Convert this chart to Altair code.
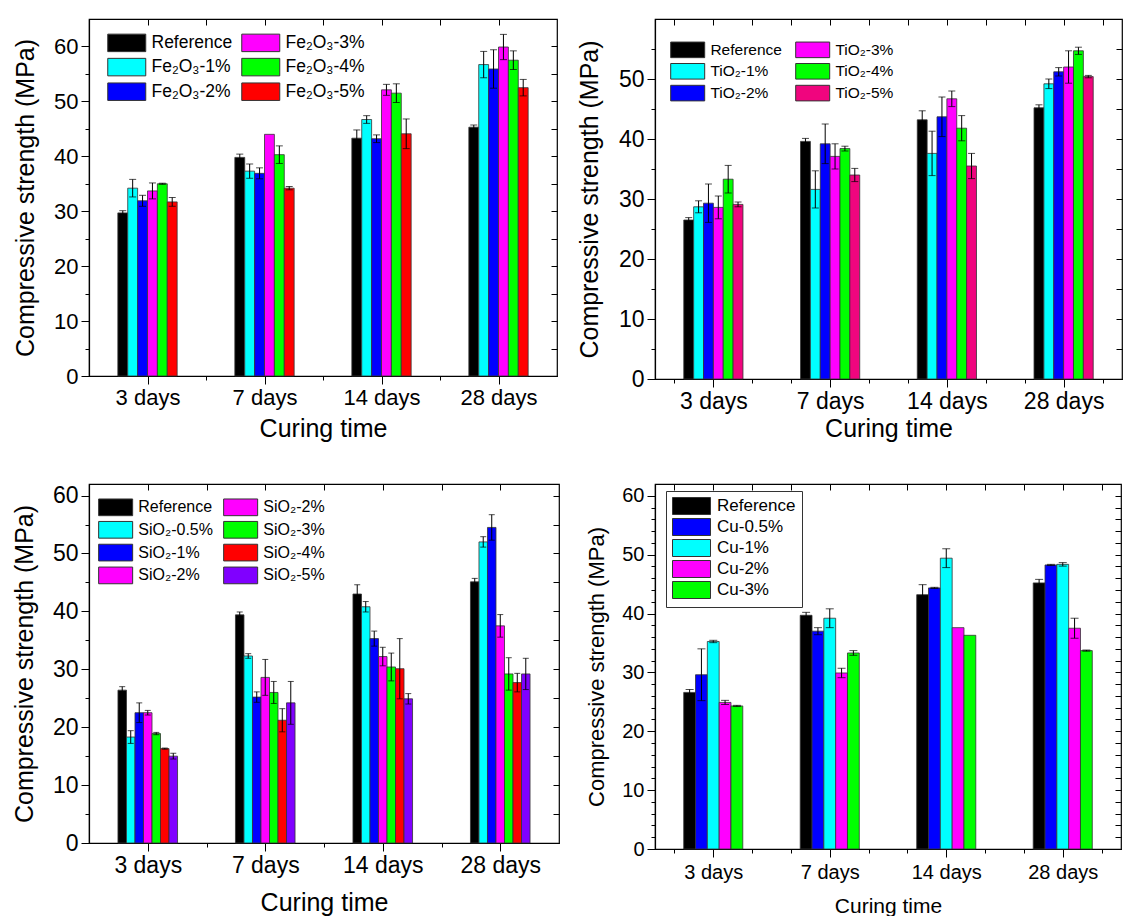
import json

import altair as alt
import pandas as pd

FONT = "Liberation Sans"
DAYS = ["3 days", "7 days", "14 days", "28 days"]
GROUP_WIDTH = 0.507  # share of one curing-time slot taken by a bar group

# ---------------- Fe2O3 ----------------
FE_SERIES = ["Reference", "Fe₂O₃-1%", "Fe₂O₃-2%", "Fe₂O₃-3%", "Fe₂O₃-4%", "Fe₂O₃-5%"]
FE_COLORS = ["#000000", "#00FFFF", "#0000FF", "#FF00FF", "#00FF00", "#FF0000"]
FE_VALUES = [
    [29.7, 39.8, 43.3, 45.3],
    [34.2, 37.3, 46.7, 56.7],
    [31.9, 36.9, 43.2, 55.9],
    [33.7, 44.0, 52.1, 59.9],
    [35.0, 40.3, 51.5, 57.5],
    [31.7, 34.2, 44.1, 52.5],
]
FE_ERRORS = [
    [0.4, 0.6, 1.5, 0.4],
    [1.6, 1.3, 0.7, 2.4],
    [1.0, 1.0, 0.7, 3.5],
    [1.45, 0.0, 1.0, 2.3],
    [0.1, 1.6, 1.7, 1.7],
    [0.8, 0.3, 2.7, 1.5],
]

# ---------------- TiO2 ----------------
TI_SERIES = ["Reference", "TiO₂-1%", "TiO₂-2%", "TiO₂-3%", "TiO₂-4%", "TiO₂-5%"]
TI_COLORS = ["#000000", "#00FFFF", "#0000FF", "#FF00FF", "#00FF00", "#F0057E"]
TI_VALUES = [
    [26.5, 39.6, 43.2, 45.2],
    [28.7, 31.6, 37.6, 49.2],
    [29.3, 39.2, 43.7, 51.2],
    [28.6, 37.1, 46.7, 52.0],
    [33.3, 38.4, 41.8, 54.7],
    [29.1, 34.0, 35.5, 50.4],
]
TI_ERRORS = [
    [0.4, 0.5, 1.5, 0.5],
    [1.0, 3.1, 3.7, 0.8],
    [3.2, 3.3, 3.3, 0.7],
    [1.9, 2.1, 1.3, 2.7],
    [2.3, 0.4, 2.1, 0.6],
    [0.4, 1.1, 2.1, 0.2],
]

# ---------------- SiO2 ----------------
SI_SERIES = ["Reference", "SiO₂-0.5%", "SiO₂-1%", "SiO₂-2%", "SiO₂-3%", "SiO₂-4%", "SiO₂-5%"]
SI_COLORS = ["#000000", "#00FFFF", "#0000FF", "#FF00FF", "#00FF00", "#FF0000", "#8000FF"]
SI_VALUES = [
    [26.4, 39.4, 43.0, 45.1],
    [18.3, 32.3, 40.8, 52.0],
    [22.5, 25.2, 35.3, 54.5],
    [22.5, 28.6, 32.2, 37.5],
    [18.9, 26.0, 30.4, 29.2],
    [16.3, 21.2, 30.1, 27.7],
    [15.0, 24.2, 24.9, 29.2],
]
SI_ERRORS = [
    [0.6, 0.5, 1.6, 0.6],
    [1.1, 0.4, 0.9, 0.9],
    [1.7, 0.9, 1.3, 2.2],
    [0.4, 3.1, 1.6, 1.95],
    [0.2, 1.9, 2.4, 2.8],
    [0.1, 2.0, 5.2, 1.6],
    [0.5, 3.7, 0.9, 2.7],
]
# the key repeats the 2 % entry at the head of its second column
SI_LEGEND = ["Reference", "SiO₂-0.5%", "SiO₂-1%", "SiO₂-2%", "SiO₂-2% ", "SiO₂-3%", "SiO₂-4%", "SiO₂-5%"]
SI_LEGEND_COLORS = ["#000000", "#00FFFF", "#0000FF", "#FF00FF", "#FF00FF", "#00FF00", "#FF0000", "#8000FF"]

# ---------------- Cu ----------------
CU_SERIES = ["Reference", "Cu-0.5%", "Cu-1%", "Cu-2%", "Cu-3%"]
CU_COLORS = ["#000000", "#0000FF", "#00FFFF", "#FF00FF", "#00FF00"]
CU_VALUES = [
    [26.6, 39.7, 43.2, 45.2],
    [29.6, 37.0, 44.35, 48.25],
    [35.25, 39.2, 49.4, 48.35],
    [24.9, 29.9, 37.6, 37.5],
    [24.3, 33.3, 36.3, 33.7],
]
CU_ERRORS = [
    [0.5, 0.5, 1.7, 0.6],
    [4.4, 0.6, 0.1, 0.1],
    [0.2, 1.6, 1.6, 0.3],
    [0.35, 0.8, 0.0, 1.7],
    [0.1, 0.4, 0.0, 0.1],
]


def key_path(w, h):
    # rectangle whose height spans the unit box and whose width runs to the right
    r = round(2 * w / h - 1, 4)
    return f"M-1,-1L{r},-1L{r},1L-1,1Z"


def panel(series, values, errors, legend_domain, legend_range, st):
    n = len(series)
    bw = GROUP_WIDTH / n
    rows = []
    for s_idx, name in enumerate(series):
        for d_idx in range(len(DAYS)):
            rows.append({"series": name, "s": s_idx, "d": d_idx + 1,
                         "v": values[s_idx][d_idx], "e": errors[s_idx][d_idx]})
    df = pd.DataFrame(rows)

    base = alt.Chart(df).transform_calculate(
        x0=f"datum.d + (datum.s - {n / 2}) * {bw}",
        x1=f"datum.d + (datum.s - {n / 2} + 1) * {bw}",
        xc=f"datum.d + (datum.s - {(n - 1) / 2}) * {bw}",
        lo="datum.v - datum.e",
        hi="datum.v + datum.e",
    )

    xscale = alt.Scale(domain=[0.5, 4.5], nice=False, zero=False)
    yscale = alt.Scale(domain=[0, st["ymax"]], nice=False)

    if st["thirds"]:
        xticks = [round(1 + i / 3, 4) for i in range(-1, 11)]
    else:
        xticks = [1, 1.5, 2, 2.5, 3, 3.5, 4]
    yticks = [v for v in range(0, st["ymax"] + 1, st["yminor"]) if v < st["ymax"]]

    is_major_x = "abs(datum.value - round(datum.value)) < 0.01"
    label_x = f"{is_major_x} ? {json.dumps(DAYS)}[round(datum.value) - 1] : ''"

    common = dict(labelFont=FONT, titleFont=FONT, labelColor="black", titleColor="black",
                  tickColor="black", domainColor="black", grid=False, titleFontWeight="normal",
                  tickWidth=1, domainWidth=1.2, labelOverlap=False)

    x_axis = alt.Axis(values=xticks, title="Curing time", labelExpr=label_x,
                      tickSize={"condition": {"test": is_major_x, "value": 8}, "value": 4},
                      labelFontSize=st["tick_fs"], titleFontSize=st["title_fs"],
                      labelPadding=st["xlabel_pad"], titlePadding=st["xtitle_pad"],
                      labelFlush=False, **common)
    y_axis = alt.Axis(values=yticks, title="Compressive strength (MPa)",
                      labelExpr="datum.value % 10 === 0 ? datum.label : ''",
                      tickSize={"condition": {"test": "datum.value % 10 === 0", "value": 8}, "value": 4},
                      labelFontSize=st["tick_fs"], titleFontSize=st["ytitle_fs"],
                      labelPadding=st["ylabel_pad"], titlePadding=st["ytitle_pad"], **common)

    boxed = st["leg_stroke"] != "transparent"
    legend = alt.Legend(
        orient="none", legendX=st["lx"], legendY=st["ly"], title=None,
        columns=st["cols"], symbolType=key_path(st["sym_w"], st["sym_h"]),
        symbolSize=st["sym_h"] ** 2,
        symbolStrokeColor="#333333", symbolStrokeWidth=1, symbolOpacity=1,
        labelFont=FONT, labelFontSize=st["leg_fs"], labelColor="black",
        labelOffset=st["sym_w"] - st["sym_h"] + st["leg_off"],
        rowPadding=st["row_pad"], columnPadding=st["col_pad"],
        padding=st["leg_pad"], strokeColor=st["leg_stroke"],
        fillColor="white" if boxed else "transparent", labelLimit=300,
    )

    bars = base.mark_bar(stroke="#333333", strokeWidth=0.8).encode(
        x=alt.X("x0:Q", scale=xscale, axis=x_axis),
        x2="x1:Q",
        y=alt.Y("v:Q", scale=yscale, axis=y_axis),
        y2=alt.datum(0),
        color=alt.Color("series:N", scale=alt.Scale(domain=legend_domain, range=legend_range),
                        legend=legend),
    )

    errs = base.transform_filter("datum.e > 0")
    whiskers = errs.mark_rule(color="black", strokeWidth=1).encode(
        x=alt.X("xc:Q", scale=xscale,
                axis=alt.Axis(orient="top", values=xticks, labels=False, domain=False, tickSize=6,
                              offset=-6, title=None, grid=False, tickColor="black", tickWidth=1)),
        y=alt.Y("lo:Q", scale=yscale,
                axis=alt.Axis(orient="right", values=yticks, labels=False, domain=False, tickSize=6,
                              offset=-6, title=None, grid=False, tickColor="black", tickWidth=1)),
        y2="hi:Q",
    )
    caps = errs.transform_fold(["lo", "hi"], as_=["end", "cap"]).mark_tick(
        orient="horizontal", color="black", size=st["cap"], thickness=1
    ).encode(
        x=alt.X("xc:Q", scale=xscale, axis=None),
        y=alt.Y("cap:Q", scale=yscale, axis=None),
    )

    return alt.layer(bars, whiskers, caps).resolve_axis(x="independent", y="independent").properties(
        width=st["w"], height=st["h"]
    )


BIG = dict(tick_fs=22, title_fs=25, ytitle_fs=25, xlabel_pad=3, xtitle_pad=8, ylabel_pad=3,
           ytitle_pad=15, thirds=False, yminor=5, cols=2, leg_stroke="transparent", leg_pad=0)

p1 = panel(FE_SERIES, FE_VALUES, FE_ERRORS, FE_SERIES, FE_COLORS,
           dict(BIG, w=468, h=357, ymax=65, lx=18, ly=14, sym_w=38, sym_h=17.5, leg_fs=17.5,
                leg_off=5, row_pad=1.6, col_pad=6, cap=7))
p2 = panel(TI_SERIES, TI_VALUES, TI_ERRORS, TI_SERIES, TI_COLORS,
           dict(BIG, w=467, h=360, ymax=60, thirds=True, tick_fs=23, xtitle_pad=3, ytitle_pad=16,
                lx=15, ly=22, sym_w=34, sym_h=15.6, leg_fs=15.5, leg_off=5, row_pad=0.8,
                col_pad=11, cap=7))
p3 = panel(SI_SERIES, SI_VALUES, SI_ERRORS, SI_LEGEND, SI_LEGEND_COLORS,
           dict(BIG, w=470, h=359, ymax=62, tick_fs=23, xtitle_pad=13, lx=9, ly=14, sym_w=34,
                sym_h=16.7, leg_fs=16, leg_off=5, row_pad=0.8, col_pad=8, cap=6))
p4 = panel(CU_SERIES, CU_VALUES, CU_ERRORS, CU_SERIES, CU_COLORS,
           dict(BIG, w=466, h=365, ymax=62, thirds=True, yminor=2, tick_fs=20, title_fs=21,
                ytitle_fs=22, ytitle_pad=13, xlabel_pad=5, xtitle_pad=13, cols=1, lx=11, ly=7,
                sym_w=38, sym_h=17, leg_fs=17, leg_off=6, row_pad=-1, col_pad=10, cap=8,
                leg_stroke="#333333", leg_pad=6))

chart = (
    alt.concat(p1, p2, p3, p4, columns=2, spacing={"row": 105, "column": 96}, bounds="flush")
    .resolve_scale(color="independent", x="independent", y="independent")
    .properties(padding={"left": 11, "top": 17, "right": 0, "bottom": 0}, background="white")
    .configure_view(stroke="black", strokeWidth=1.2)
)

chart.save("out.html", embed_options={"renderer": "svg", "actions": False})
